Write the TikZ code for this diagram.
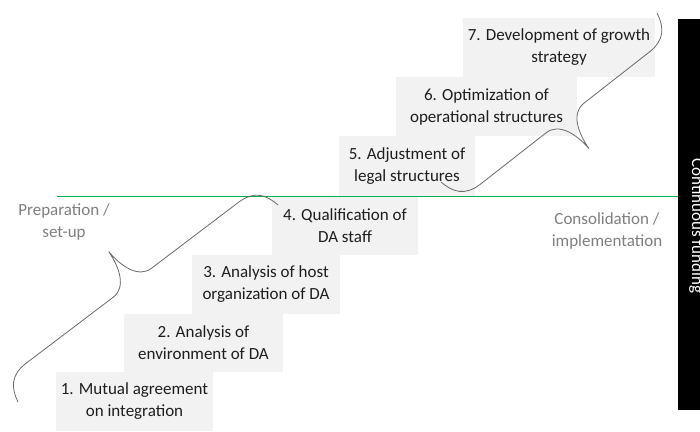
\documentclass[tikz,border=0pt]{standalone}
\usepackage{fontspec}
\setmainfont{Carlito}
\usepackage{xcolor}
\usepackage{tikz}
\definecolor{stepgray}{RGB}{242,242,242}
\definecolor{steptext}{RGB}{30,30,30}
\definecolor{phasegray}{RGB}{127,127,127}
\definecolor{bracegray}{RGB}{105,105,105}
\definecolor{linegreen}{RGB}{0,176,80}

\begin{document}
\begin{tikzpicture}[x=1pt,y=-1pt,
    stepbox/.style={fill=stepgray, text=steptext, align=center, inner sep=0pt,
      font=\fontsize{17}{22}\selectfont},
    phase/.style={text=phasegray, align=center, font=\fontsize{17}{22}\selectfont},
    pics/phasebrace/.style={code={
      \draw[bracegray, line width=0.8pt]
        (0,0) .. controls (3,15) and (10,26) .. (30,26)
        -- ({#1/2-24},26) .. controls ({#1/2-8},26) and ({#1/2-1},45) .. ({#1/2},65)
        .. controls ({#1/2+1},45) and ({#1/2+8},26) .. ({#1/2+24},26)
        -- ({#1-30},26) .. controls ({#1-10},26) and ({#1-3},15) .. (#1,0);
    }}]
  \useasboundingbox (0,0) rectangle (700,431);
  % Steps of the staircase
  \node[stepbox, minimum width=157, minimum height=59] (s1) at (134.5,401.5) {1. Mutual agreement\\on integration};
  \node[stepbox, minimum width=159, minimum height=58] (s2) at (203.5,343) {2. Analysis of\\environment of DA};
  \node[stepbox, minimum width=148, minimum height=59] (s3) at (266,284.5) {3. Analysis of host\\organization of DA};
  \node[stepbox, minimum width=146, minimum height=58] (s4) at (345,226) {4. Qualification of\\DA staff};
  \node[stepbox, minimum width=136, minimum height=61] (s5) at (407,166.5) {5. Adjustment of\\legal structures};
  \node[stepbox, minimum width=181, minimum height=59] (s6) at (486.5,106.5) {6. Optimization of\\operational structures};
  \node[stepbox, minimum width=192, minimum height=59] (s7) at (559,47.5) {7. Development of growth\\strategy};
  % Continuous funding bar
  \fill[black] (678,19) rectangle (700,410);
  \node[rotate=-90, anchor=base, text=white, font=\fontsize{17}{22}\selectfont] (fund) at (692,226) {Continuous funding};
  % Phase border
  \coordinate (lineL) at (57,196);
  \coordinate (lineR) at (678,196);
  \draw[linegreen, line width=0.9pt] (lineL) -- (lineR);
  % Phase labels
  \node[phase] (prep) at (64,222) {Preparation /\\set-up};
  \node[phase] (cons) at (607,231) {Consolidation /\\implementation};
  % Braces
  \coordinate (prepA) at (18,402);
  \coordinate (consA) at (441,182);
  \pic[shift={(prepA)}, x={(0.7971pt,0.6039pt)}, y={(-0.6039pt,0.7971pt)}] (prepbrace) {phasebrace=326.2};
  \pic[shift={(consA)}, x={(0.7875pt,0.6161pt)}, y={(0.6161pt,-0.7875pt)}] (consbrace) {phasebrace=274.3};
\end{tikzpicture}
\end{document}
